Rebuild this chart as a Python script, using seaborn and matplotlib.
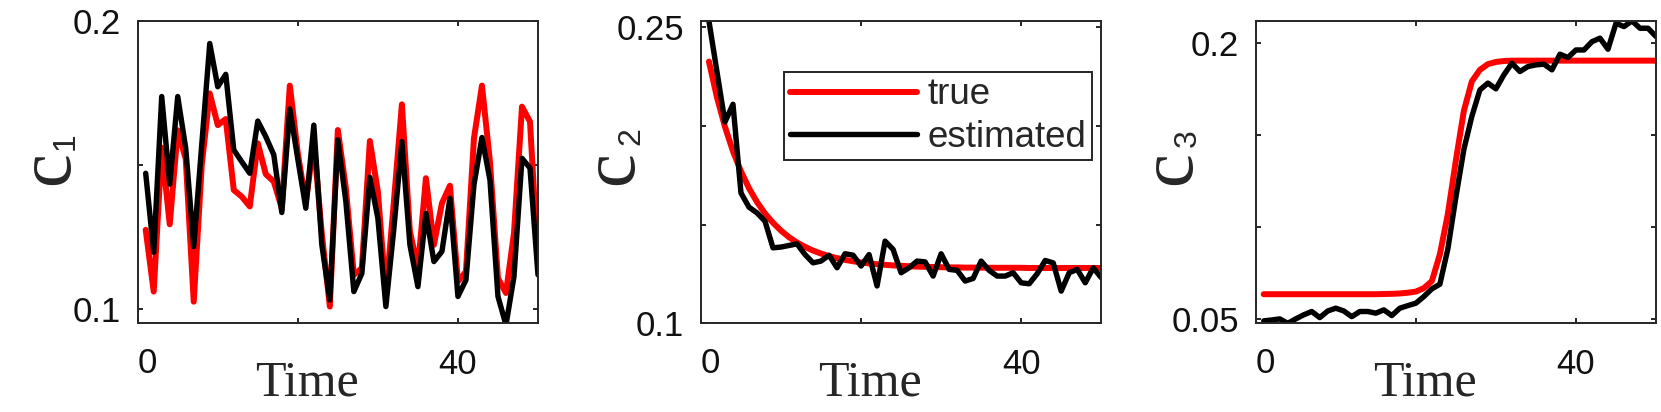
import numpy as np
import pandas as pd
import seaborn as sns
from matplotlib import pyplot as plt

# time steps shared by all three panels
time = list(range(1, 51))

c1_true = [0.1275, 0.1061, 0.156, 0.1294, 0.162, 0.152, 0.1026, 0.150, 0.1748, 0.1638,
           0.1659, 0.1413, 0.139, 0.1356, 0.1575, 0.1468, 0.1442, 0.135, 0.1775, 0.154,
           0.137, 0.158, 0.126, 0.1009, 0.1621, 0.1419, 0.1119, 0.1142, 0.1583, 0.1407,
           0.105, 0.1373, 0.171, 0.1269, 0.1142, 0.1454, 0.1223, 0.1367, 0.1428, 0.1096,
           0.113, 0.1592, 0.1775, 0.1511, 0.1107, 0.1056, 0.1264, 0.1702, 0.165, 0.116]
c1_est = [0.1471, 0.1197, 0.1737, 0.1433, 0.1737, 0.1558, 0.1217, 0.157, 0.1921, 0.1771,
          0.1814, 0.1552, 0.1511, 0.1471, 0.1652, 0.1598, 0.1535, 0.1335, 0.1694, 0.152,
          0.135, 0.1638, 0.1223, 0.1032, 0.1587, 0.1373, 0.1061, 0.1124, 0.1457, 0.1315,
          0.1009, 0.128, 0.1581, 0.1223, 0.1078, 0.1332, 0.1165, 0.12, 0.1384, 0.1044,
          0.1101, 0.1431, 0.1595, 0.1448, 0.1044, 0.0945, 0.1113, 0.1523, 0.1489, 0.1119]

c2_true = [0.2325, 0.2144, 0.1995, 0.1871, 0.1769, 0.1684, 0.1614, 0.1556, 0.1509, 0.1469,
           0.1436, 0.1409, 0.1387, 0.1368, 0.1353, 0.134, 0.133, 0.1321, 0.1314, 0.1308,
           0.1303, 0.1299, 0.1296, 0.1293, 0.1291, 0.1289, 0.1287, 0.1286, 0.1285, 0.1284,
           0.1283, 0.1283, 0.1282, 0.1282, 0.1282, 0.1281, 0.1281, 0.1281, 0.1281, 0.1281,
           0.128, 0.128, 0.128, 0.128, 0.128, 0.128, 0.128, 0.128, 0.128, 0.128]
c2_est = [0.253, 0.2274, 0.2019, 0.2109, 0.166, 0.1588, 0.1559, 0.1517, 0.1382, 0.1386,
          0.1394, 0.1402, 0.1348, 0.1306, 0.1315, 0.1345, 0.1281, 0.1352, 0.1345, 0.129,
          0.1348, 0.1189, 0.1416, 0.1374, 0.1256, 0.1281, 0.1315, 0.1311, 0.1239, 0.1352,
          0.1273, 0.1268, 0.1214, 0.1227, 0.1315, 0.1268, 0.1239, 0.1239, 0.1256, 0.1205,
          0.12, 0.1251, 0.1318, 0.1306, 0.1163, 0.1256, 0.1273, 0.1205, 0.1281, 0.1231]

c3_true = [0.0634, 0.0634, 0.0634, 0.0634, 0.0634, 0.0634, 0.0634, 0.0634, 0.0634, 0.0634,
           0.0634, 0.0634, 0.0634, 0.0634, 0.0634, 0.0635, 0.0636, 0.0638, 0.0642, 0.0648,
           0.0667, 0.0705, 0.085, 0.107, 0.136, 0.163, 0.179, 0.1852, 0.1883, 0.1895,
           0.19, 0.1902, 0.1902, 0.1902, 0.1902, 0.1902, 0.1902, 0.1902, 0.1902, 0.1902,
           0.1902, 0.1902, 0.1902, 0.1902, 0.1902, 0.1902, 0.1902, 0.1902, 0.1902, 0.1902]
c3_est = [0.0489, 0.0494, 0.05, 0.0476, 0.05, 0.0522, 0.054, 0.0507, 0.0543, 0.0558,
          0.0543, 0.0512, 0.054, 0.054, 0.0531, 0.0549, 0.0518, 0.0558, 0.0572, 0.0585,
          0.0621, 0.0663, 0.0688, 0.088, 0.116, 0.142, 0.160, 0.1743, 0.178, 0.1749,
          0.1825, 0.1888, 0.1843, 0.187, 0.1879, 0.1883, 0.1852, 0.1937, 0.1919, 0.196,
          0.196, 0.2005, 0.2024, 0.1964, 0.2105, 0.2087, 0.2118, 0.2078, 0.2078, 0.2033]

panel_names = ['1', '2', '3']
y_ticks = [[0.1, 0.15, 0.2], [0.1, 0.15, 0.2, 0.25], [0.05, 0.1, 0.15, 0.2]]
y_ticklabels = [['0.1', '', '0.2'], ['0.1', '', '', '0.25'], ['0.05', '', '', '0.2']]
y_limits = [(0.0951, 0.2), (0.1003, 0.2532), (0.0476, 0.2119)]

sns.set_style('ticks')
plt.rcParams['font.family'] = ['Liberation Sans', 'DejaVu Sans']

axis_grey = '#262626'
serif = ['Liberation Serif', 'DejaVu Serif']

fig = plt.figure(figsize=(16.61, 4.12), dpi=100)
lefts = [0.0829, 0.4220, 0.7560]
# (c baseline x, c centre y, subscript baseline x, subscript centre y) in axes fraction
label_spots = [(-0.175, 0.512, -0.161, 0.602),
               (-0.172, 0.512, -0.155, 0.620),
               (-0.165, 0.512, -0.149, 0.612)]

series = [(c1_true, c1_est), (c2_true, c2_est), (c3_true, c3_est)]

for i, (true_vals, est_vals) in enumerate(series):
    ax = fig.add_axes([lefts[i], 0.2153, 0.241, 0.7345])
    if i == 1:
        sns.lineplot(x=time, y=true_vals, color='red', linewidth=4.3, ax=ax, label='true')
        sns.lineplot(x=time, y=est_vals, color='black', linewidth=3.9, ax=ax, label='estimated')
    else:
        sns.lineplot(x=time, y=true_vals, color='red', linewidth=4.3, ax=ax)
        sns.lineplot(x=time, y=est_vals, color='black', linewidth=3.9, ax=ax)

    ax.set_xlim(0, 50)
    ax.set_ylim(*y_limits[i])
    ax.set_xticks([0, 20, 40])
    ax.set_xticklabels(['', '', '40'])
    ax.set_yticks(y_ticks[i])
    ax.set_yticklabels(y_ticklabels[i])
    ax.tick_params(direction='in', length=3.6, width=1.4, color=axis_grey,
                   top=True, right=True, labelsize=25, labelcolor='#111111')
    ax.tick_params(axis='x', pad=17.5)
    ax.tick_params(axis='y', pad=12)
    for s in ax.spines.values():
        s.set_linewidth(1.4)
        s.set_color(axis_grey)

    # the zero label sits a little right of the axis corner
    ax.text(1.2, -0.164, '0', transform=ax.get_xaxis_transform(), ha='center',
            va='baseline', fontsize=25, color='#111111')

    ax.set_xlabel('Time', fontsize=36, family=serif, va='baseline', ha='center')
    ax.xaxis.set_label_coords(0.422, -0.237)

    cx, cy, sx, sy = label_spots[i]
    ax.set_ylabel('c', fontsize=55, family=serif, rotation=90, rotation_mode='anchor',
                  ha='center', va='baseline')
    ax.yaxis.set_label_coords(cx, cy)
    ax.text(sx, sy, panel_names[i], transform=ax.transAxes, rotation=90,
            rotation_mode='anchor', ha='center', va='baseline', fontsize=23)

    if i == 1:
        leg = ax.legend(loc='upper right', bbox_to_anchor=(0.9775, 0.8305), borderaxespad=0,
                        fontsize=26.5, handlelength=3.45, handletextpad=0.3, borderpad=0.15,
                        labelspacing=0.2, fancybox=False, framealpha=1, edgecolor=axis_grey)
        leg.get_frame().set_linewidth(1.4)
    else:
        if ax.get_legend() is not None:
            ax.get_legend().remove()

fig.savefig('out.png', dpi=100)
